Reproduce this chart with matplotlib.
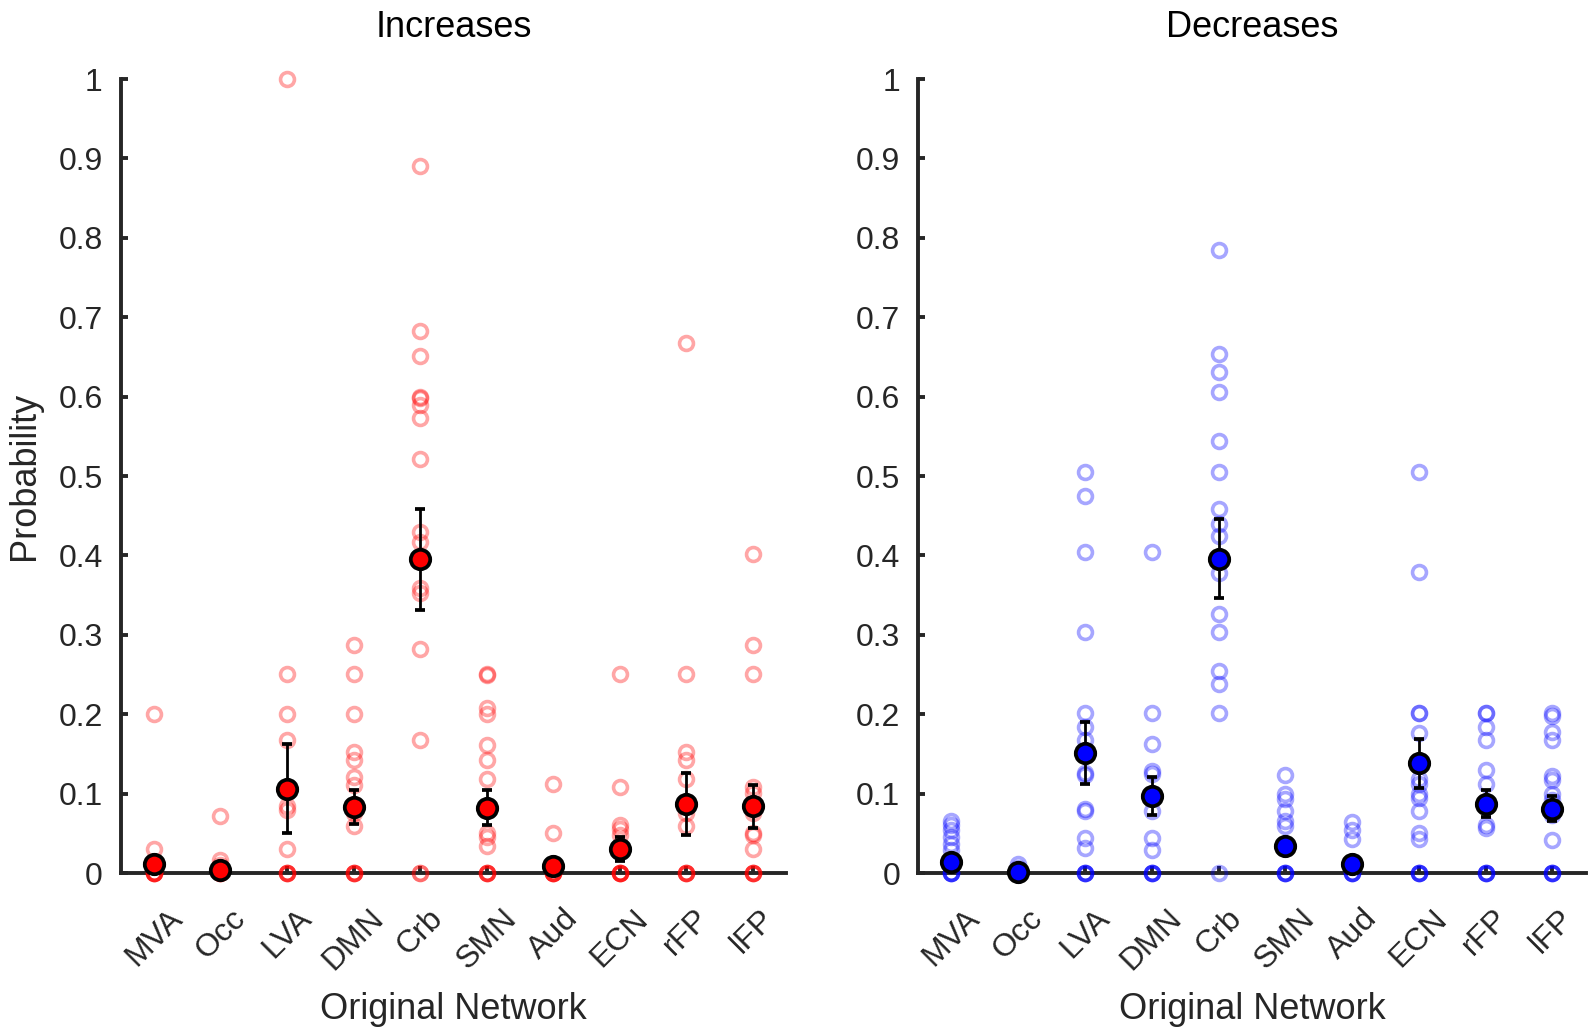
import numpy as np
import matplotlib.pyplot as plt
from matplotlib.ticker import FuncFormatter

plt.rcParams['font.family'] = ['Liberation Sans', 'DejaVu Sans']

networks = ['MVA', 'Occ', 'LVA', 'DMN', 'Crb', 'SMN', 'Aud', 'ECN', 'rFP', 'lFP']

# --- individual values, increases ---
inc_mva = [0.200, 0.030, 0, 0, 0, 0, 0]
inc_occ = [0.072, 0.017, 0.010, 0, 0, 0, 0]
inc_lva = [1.0, 0.251, 0.200, 0.168, 0.084, 0.080, 0.030, 0, 0, 0, 0]
inc_dmn = [0.287, 0.251, 0.200, 0.152, 0.143, 0.121, 0.111, 0.083, 0.076, 0.059, 0, 0, 0, 0]
inc_crb = [0.890, 0.683, 0.651, 0.600, 0.598, 0.590, 0.573, 0.521, 0.429, 0.417,
           0.359, 0.353, 0.282, 0.168, 0, 0]
inc_smn = [0.251, 0.250, 0.208, 0.200, 0.161, 0.143, 0.119, 0.050, 0.046, 0.034, 0, 0, 0, 0]
inc_aud = [0.112, 0.050, 0, 0, 0, 0, 0]
inc_ecn = [0.251, 0.108, 0.061, 0.055, 0.048, 0, 0, 0, 0, 0]
inc_rfp = [0.668, 0.251, 0.152, 0.143, 0.119, 0.076, 0.059, 0, 0, 0, 0]
inc_lfp = [0.402, 0.287, 0.251, 0.108, 0.101, 0.076, 0.050, 0.048, 0.030, 0, 0, 0, 0]

inc_mean = [0.012, 0.004, 0.106, 0.083, 0.395, 0.082, 0.009, 0.030, 0.087, 0.084]
inc_sem = [0.008, 0.004, 0.056, 0.021, 0.064, 0.022, 0.005, 0.015, 0.039, 0.027]

# --- individual values, decreases ---
dec_mva = [0.066, 0.060, 0.054, 0.045, 0.037, 0.029, 0, 0, 0, 0]
dec_occ = [0.012, 0.006, 0, 0, 0, 0]
dec_lva = [0.505, 0.475, 0.404, 0.303, 0.202, 0.184, 0.168, 0.126, 0.124, 0.081,
           0.078, 0.044, 0.032, 0, 0, 0, 0]
dec_dmn = [0.404, 0.202, 0.163, 0.128, 0.125, 0.078, 0.044, 0.029, 0, 0, 0, 0]
dec_crb = [0.785, 0.654, 0.631, 0.606, 0.544, 0.505, 0.459, 0.439, 0.424, 0.378,
           0.326, 0.303, 0.254, 0.238, 0.202, 0]
dec_smn = [0.124, 0.099, 0.093, 0.078, 0.066, 0.059, 0, 0, 0, 0]
dec_aud = [0.064, 0.054, 0.043, 0, 0, 0, 0]
dec_ecn = [0.505, 0.379, 0.202, 0.202, 0.176, 0.118, 0.112, 0.100, 0.095, 0.078,
           0.050, 0.043, 0, 0, 0, 0]
dec_rfp = [0.202, 0.202, 0.184, 0.168, 0.130, 0.112, 0.060, 0.057, 0, 0, 0, 0]
dec_lfp = [0.202, 0.198, 0.178, 0.168, 0.122, 0.117, 0.100, 0.092, 0.073, 0.042, 0, 0, 0, 0]

dec_mean = [0.014, 0.001, 0.151, 0.097, 0.396, 0.034, 0.011, 0.138, 0.087, 0.081]
dec_sem = [0.006, 0.001, 0.039, 0.024, 0.050, 0.007, 0.005, 0.031, 0.017, 0.016]

inc_all = [inc_mva, inc_occ, inc_lva, inc_dmn, inc_crb, inc_smn, inc_aud, inc_ecn, inc_rfp, inc_lfp]
dec_all = [dec_mva, dec_occ, dec_lva, dec_dmn, dec_crb, dec_smn, dec_aud, dec_ecn, dec_rfp, dec_lfp]

fig = plt.figure(figsize=(15.9, 10.32), dpi=100)
ax1 = fig.add_axes([0.0759, 0.154, 0.4185, 0.7694])
ax2 = fig.add_axes([0.5774, 0.154, 0.4200, 0.7694])

spine_col = '#262626'


def draw_panel(ax, groups, means, sems, color, title, show_ylabel):
    x = np.arange(1, len(groups) + 1)
    for i, vals in enumerate(groups):
        ax.plot([x[i]] * len(vals), vals, 'o', ms=10, mfc='none', mec=color,
                mew=2.6, alpha=0.35, clip_on=False, zorder=3)
    ax.errorbar(x, means, yerr=sems, fmt='o', ms=14, mfc=color, mec='black', mew=2.7,
                ecolor='black', elinewidth=2.0, capsize=3.5, capthick=2.4,
                clip_on=False, zorder=4)

    ax.set_xlim(0.5, 10.5)
    ax.set_ylim(0, 1)
    ax.set_yticks(np.arange(0, 1.01, 0.1))
    ax.yaxis.set_major_formatter(FuncFormatter(lambda v, p: f'{v:g}'))
    ax.set_xticks(x)
    ax.set_xticklabels(networks, rotation=45, ha='center')

    for s in ['top', 'right']:
        ax.spines[s].set_visible(False)
    for s in ['left', 'bottom']:
        ax.spines[s].set_linewidth(2.8)
        ax.spines[s].set_color(spine_col)
    ax.tick_params(axis='both', direction='in', length=5, width=2.8, color=spine_col,
                   labelsize=23, labelcolor='#262626')
    ax.tick_params(axis='x', pad=22)
    ax.tick_params(axis='y', pad=13)

    ax.set_title(title, fontsize=26, pad=30)
    ax.set_xlabel('Original Network', fontsize=26, color='#262626', labelpad=11)
    if show_ylabel:
        ax.set_ylabel('Probability', fontsize=26, color='#262626', labelpad=12)


draw_panel(ax1, inc_all, inc_mean, inc_sem, 'red', 'Increases', True)
draw_panel(ax2, dec_all, dec_mean, dec_sem, 'blue', 'Decreases', False)

fig.savefig('out.png', dpi=100)
